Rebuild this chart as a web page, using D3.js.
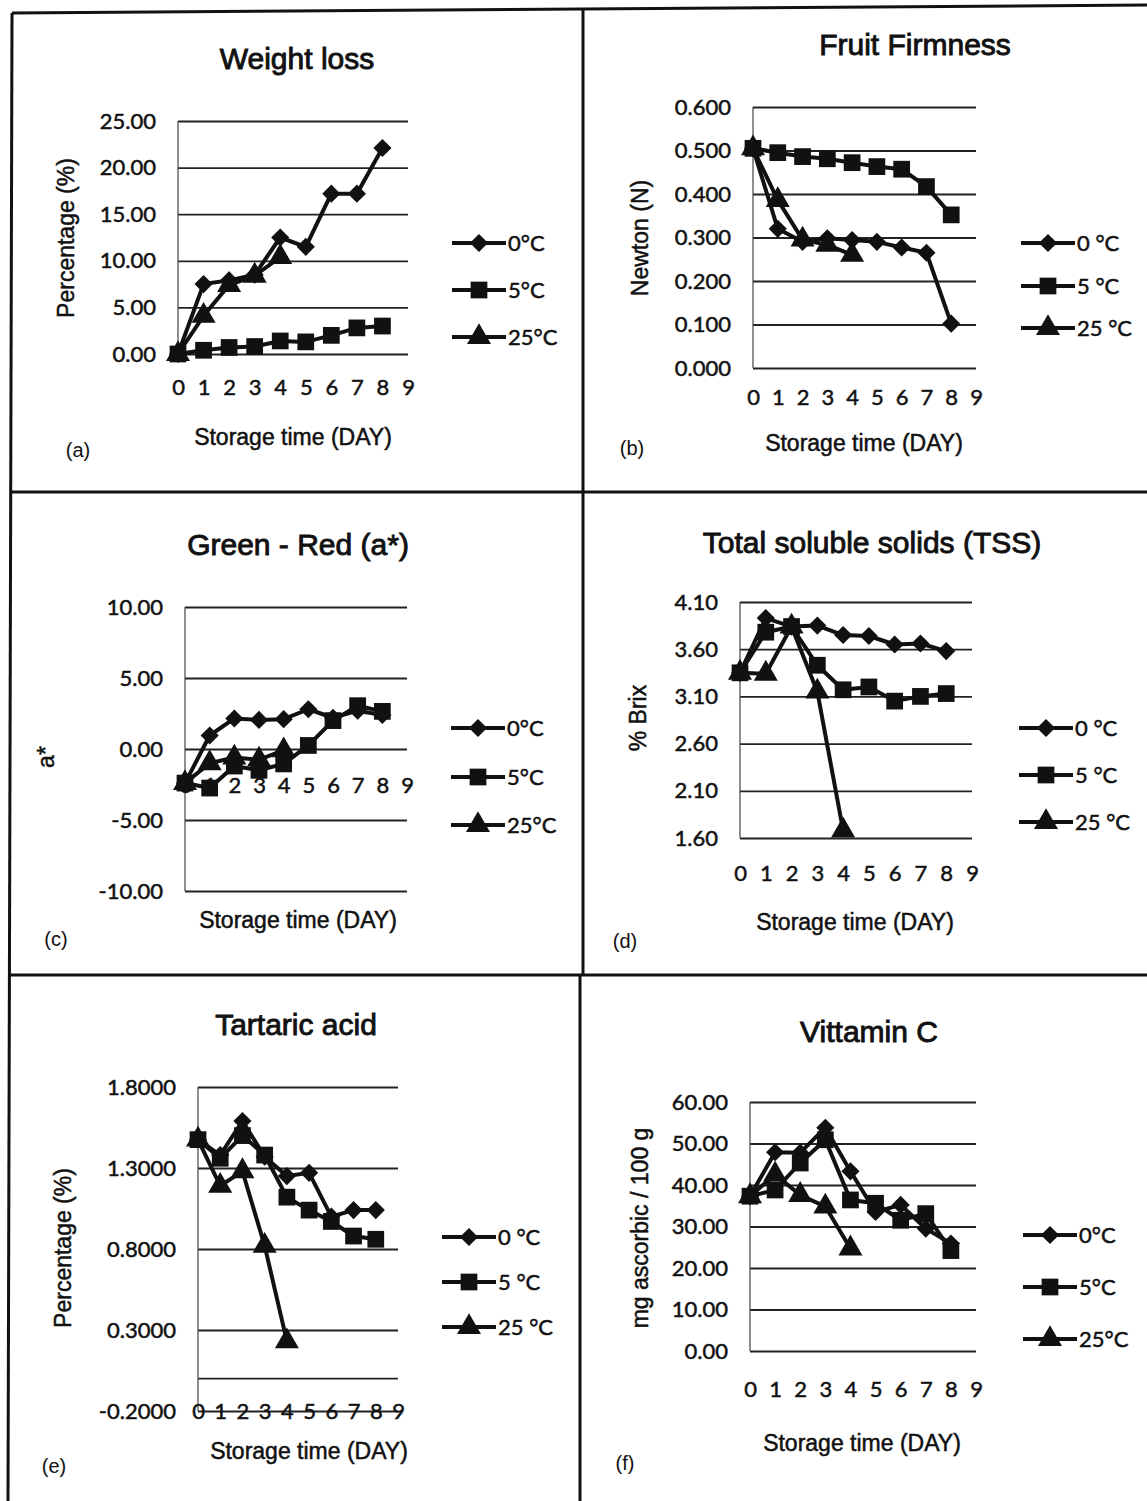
<!doctype html>
<html>

<head>
    <meta charset="utf-8">
    <title>Storage time charts</title>
    <script type="text/javascript" src="https://cdn.jsdelivr.net/npm/d3@7/dist/d3.min.js"></script>
    <style type="text/css">
        html,
        body {
            margin: 0;
            padding: 0;
            background: #fff;
        }

        #chart svg {
            display: block;
        }

        #chart text {
            fill: #111;
            stroke: #111;
            stroke-width: 0.5px;
        }

        .tick text {
            font-family: Lato, "Open Sans", sans-serif;
            font-size: 22px;
        }
    </style>

    <script type="text/javascript">
        // storage days and series values
        var days = [0, 1, 2, 3, 4, 5, 6, 7, 8]
        var xTicks = [0, 1, 2, 3, 4, 5, 6, 7, 8, 9]

        var weight0 = [0, 7.5, 7.9, 8.5, 12.5, 11.5, 17.2, 17.2, 22.1]
        var weight5 = [0, 0.4, 0.7, 0.8, 1.4, 1.3, 2.0, 2.8, 3.0]
        var weight25 = [0, 4.1, 7.4, 8.4, 10.4]
        var weightTicks = [0, 5, 10, 15, 20, 25]

        var firm0 = [0.505, 0.32, 0.29, 0.298, 0.294, 0.29, 0.277, 0.265, 0.102]
        var firm5 = [0.505, 0.495, 0.486, 0.481, 0.472, 0.463, 0.457, 0.417, 0.352]
        var firm25 = [0.505, 0.386, 0.295, 0.283, 0.26]
        var firmTicks = [0, 0.1, 0.2, 0.3, 0.4, 0.5, 0.6]

        var red0 = [-2.4, 0.95, 2.15, 2.05, 2.1, 2.8, 2.2, 2.7, 2.4]
        var red5 = [-2.4, -2.75, -1.2, -1.5, -1.05, 0.25, 2.0, 3.05, 2.65]
        var red25 = [-2.4, -1.0, -0.6, -0.75, -0.1]
        var redTicks = [-10, -5, 0, 5, 10]

        var tss0 = [3.35, 3.93, 3.84, 3.85, 3.75, 3.74, 3.65, 3.66, 3.58]
        var tss5 = [3.35, 3.78, 3.84, 3.43, 3.17, 3.20, 3.05, 3.10, 3.13]
        var tss25 = [3.35, 3.34, 3.84, 3.15, 1.68]
        var tssTicks = [1.6, 2.1, 2.6, 3.1, 3.6, 4.1]

        var acid0 = [1.475, 1.38, 1.59, 1.37, 1.25, 1.27, 1.0, 1.04, 1.04]
        var acid5 = [1.475, 1.36, 1.50, 1.38, 1.12, 1.04, 0.97, 0.88, 0.86]
        var acid25 = [1.475, 1.19, 1.28, 0.82, 0.23]
        var acidTicks = [-0.2, 0.3, 0.8, 1.3, 1.8]

        var vitc0 = [37.3, 47.9, 47.8, 53.8, 43.3, 33.5, 35.2, 29.5, 25.9]
        var vitc5 = [37.3, 38.8, 45.3, 50.9, 36.4, 35.6, 31.5, 33.1, 24.2]
        var vitc25 = [37.3, 42.5, 37.6, 34.8, 24.7]
        var vitcTicks = [0, 10, 20, 30, 40, 50, 60]

        var legendPlain = ["0°C", "5°C", "25°C"]
        var legendSpaced = ["0 °C", "5 °C", "25 °C"]
    </script>

    <script type="text/javascript">
        // plain hyphen for negatives, like the original
        var locale = d3.formatLocale({ decimal: ".", thousands: ",", grouping: [3], currency: ["", ""], minus: "-" })

        var markers = [
            { type: d3.symbolSquare, size: 165, rotate: 45 },   // diamond
            { type: d3.symbolSquare, size: 280, rotate: 0 },
            { type: d3.symbolTriangle, size: 250, rotate: 0 }
        ]

        var panels = [
            {
                title: "Weight loss", tx: 297, ty: 69, letter: "(a)", lx: 78, ly: 457,
                ylabel: "Percentage (%)", ylx: 66, yly: 238, xlabel: "Storage time (DAY)", xlx: 293, xly: 445,
                x0: 178, x1: 408, yTop: 121, yBot: 354, dom: [0, 25], ticks: weightTicks, fmt: ".2f",
                xLabY: 387, series: [weight0, weight5, weight25], legend: legendPlain,
                legX: 452, legY: [243, 290, 337]
            },
            {
                title: "Fruit Firmness", tx: 915, ty: 55, letter: "(b)", lx: 632, ly: 455,
                ylabel: "Newton  (N)", ylx: 640, yly: 238, xlabel: "Storage time (DAY)", xlx: 864, xly: 451,
                x0: 753, x1: 976, yTop: 107, yBot: 368, dom: [0, 0.6], ticks: firmTicks, fmt: ".3f",
                xLabY: 397, series: [firm0, firm5, firm25], legend: legendSpaced,
                legX: 1021, legY: [243, 286, 328]
            },
            {
                title: "Green - Red (a*)", tx: 298, ty: 555, letter: "(c)", lx: 56, ly: 946,
                ylabel: "a*", ylx: 46, yly: 757, xlabel: "Storage time (DAY)", xlx: 298, xly: 928,
                x0: 185, x1: 407, yTop: 607, yBot: 891, dom: [-10, 10], ticks: redTicks, fmt: ".2f",
                xLabY: 785, series: [red0, red5, red25], legend: legendPlain,
                legX: 451, legY: [728, 777, 825]
            },
            {
                title: "Total soluble solids (TSS)", tx: 872, ty: 553, letter: "(d)", lx: 625, ly: 948,
                ylabel: "% Brix", ylx: 638, yly: 718, xlabel: "Storage time (DAY)", xlx: 855, xly: 930,
                x0: 740, x1: 972, yTop: 602, yBot: 838, dom: [1.6, 4.1], ticks: tssTicks, fmt: ".2f",
                xLabY: 873, series: [tss0, tss5, tss25], legend: legendSpaced,
                legX: 1019, legY: [728, 775, 822]
            },
            {
                title: "Tartaric acid", tx: 296, ty: 1035, letter: "(e)", lx: 54, ly: 1473,
                ylabel: "Percentage (%)", ylx: 63, yly: 1248, xlabel: "Storage time (DAY)", xlx: 309, xly: 1459,
                x0: 198, x1: 398, yTop: 1087, yBot: 1411, dom: [-0.2, 1.8], ticks: acidTicks, fmt: ".4f",
                xLabY: 1411, zeroLine: true, series: [acid0, acid5, acid25], legend: legendSpaced,
                legX: 442, legY: [1237, 1282, 1327]
            },
            {
                title: "Vittamin C", tx: 869, ty: 1042, letter: "(f)", lx: 625, ly: 1470,
                ylabel: "mg ascorbic / 100 g", ylx: 640, yly: 1228, xlabel: "Storage time (DAY)", xlx: 862, xly: 1451,
                x0: 750, x1: 976, yTop: 1102, yBot: 1351, dom: [0, 60], ticks: vitcTicks, fmt: ".2f",
                xLabY: 1389, series: [vitc0, vitc5, vitc25], legend: legendPlain,
                legX: 1023, legY: [1235, 1287, 1339]
            }
        ]

        function drawMarker(g, m, x, y) {
            g.append("path")
                .attr("d", d3.symbol().type(m.type).size(m.size)())
                .attr("transform", "translate(" + x + "," + y + ") rotate(" + m.rotate + ")")
                .attr("fill", "#111")
        }

        function drawPanel(svg, p) {
            var g = svg.append("g")
            var x = d3.scaleLinear().domain([0, 9]).range([p.x0, p.x1])
            var y = d3.scaleLinear().domain(p.dom).range([p.yBot, p.yTop])

            // gridlines + y tick labels
            var yAxis = g.append("g")
                .attr("transform", "translate(" + p.x0 + ",0)")
                .call(d3.axisLeft(y).tickValues(p.ticks).tickFormat(locale.format(p.fmt))
                    .tickSize(-(p.x1 - p.x0)).tickPadding(22))
            yAxis.select(".domain").remove()
            yAxis.selectAll(".tick line").attr("stroke", "#222").attr("stroke-width", 1.8)

            if (p.zeroLine) {
                g.append("line")
                    .attr("x1", p.x0).attr("x2", p.x1)
                    .attr("y1", y(0)).attr("y2", y(0))
                    .attr("stroke", "#222").attr("stroke-width", 1.8)
            }

            // vertical axis line
            g.append("line")
                .attr("x1", p.x0).attr("x2", p.x0)
                .attr("y1", p.yTop).attr("y2", p.yBot)
                .attr("stroke", "#444").attr("stroke-width", 1.2)

            // x tick labels
            var xAxis = g.append("g")
                .attr("transform", "translate(0," + p.xLabY + ")")
                .call(d3.axisBottom(x).tickValues(xTicks).tickFormat(d3.format("d")).tickSize(0).tickPadding(0))
            xAxis.select(".domain").remove()
            xAxis.selectAll(".tick text").attr("dy", "0.35em").attr("y", 0)

            var line = d3.line()
                .x(function (d, i) { return x(days[i]) })
                .y(function (d) { return y(d) })

            p.series.forEach(function (s, k) {
                var sg = g.append("g")
                sg.append("path")
                    .datum(s)
                    .attr("d", line)
                    .attr("fill", "none")
                    .attr("stroke", "#111")
                    .attr("stroke-width", 4)
                    .attr("stroke-linejoin", "round")
                s.forEach(function (v, i) {
                    drawMarker(sg, markers[k], x(days[i]), y(v))
                })
            })

            // legend
            p.legend.forEach(function (name, k) {
                var ly = p.legY[k]
                g.append("line")
                    .attr("x1", p.legX).attr("x2", p.legX + 54)
                    .attr("y1", ly).attr("y2", ly)
                    .attr("stroke", "#111").attr("stroke-width", 4)
                drawMarker(g, markers[k], p.legX + 27, ly)
                g.append("text")
                    .attr("x", p.legX + 56).attr("y", ly)
                    .attr("dy", "0.35em")
                    .style("font-family", "Lato, 'Open Sans', sans-serif")
                    .style("font-size", "22px")
                    .text(name)
            })

            g.append("text")
                .attr("x", p.tx).attr("y", p.ty)
                .attr("text-anchor", "middle")
                .style("font-family", "'Liberation Sans', Arial, sans-serif")
                .style("font-size", "30px")
                .style("stroke-width", "0.9px")
                .text(p.title)

            g.append("text")
                .attr("transform", "translate(" + p.ylx + "," + p.yly + ") rotate(-90)")
                .attr("text-anchor", "middle")
                .attr("dy", "0.35em")
                .style("font-family", "'Liberation Sans', Arial, sans-serif")
                .style("font-size", "23px")
                .text(p.ylabel)

            g.append("text")
                .attr("x", p.xlx).attr("y", p.xly)
                .attr("text-anchor", "middle")
                .style("font-family", "'Liberation Sans', Arial, sans-serif")
                .style("font-size", "23px")
                .text(p.xlabel)

            g.append("text")
                .attr("x", p.lx).attr("y", p.ly)
                .attr("text-anchor", "middle")
                .style("font-family", "'Liberation Sans', Arial, sans-serif")
                .style("font-size", "20px")
                .style("stroke-width", "0px")
                .text(p.letter)
        }

        document.addEventListener("DOMContentLoaded", function (e) {
            var svg = d3.select("#chart").append("svg")
                .attr("width", 1147)
                .attr("height", 1501)

            // frame of the six panels
            var frame = [
                [12, 13, 1147, 5],
                [12, 13, 8, 1501],
                [583, 8, 583, 976],
                [580, 976, 580, 1501],
                [12, 492, 1147, 492],
                [10, 975, 1147, 975]
            ]
            svg.selectAll("line.frame")
                .data(frame)
                .enter().append("line")
                .attr("class", "frame")
                .attr("x1", function (d) { return d[0] })
                .attr("y1", function (d) { return d[1] })
                .attr("x2", function (d) { return d[2] })
                .attr("y2", function (d) { return d[3] })
                .attr("stroke", "#111")
                .attr("stroke-width", 3)

            panels.forEach(function (p) { drawPanel(svg, p) })
        })
    </script>

</head>

<body>
    <div id="chart"></div>
</body>

</html>
